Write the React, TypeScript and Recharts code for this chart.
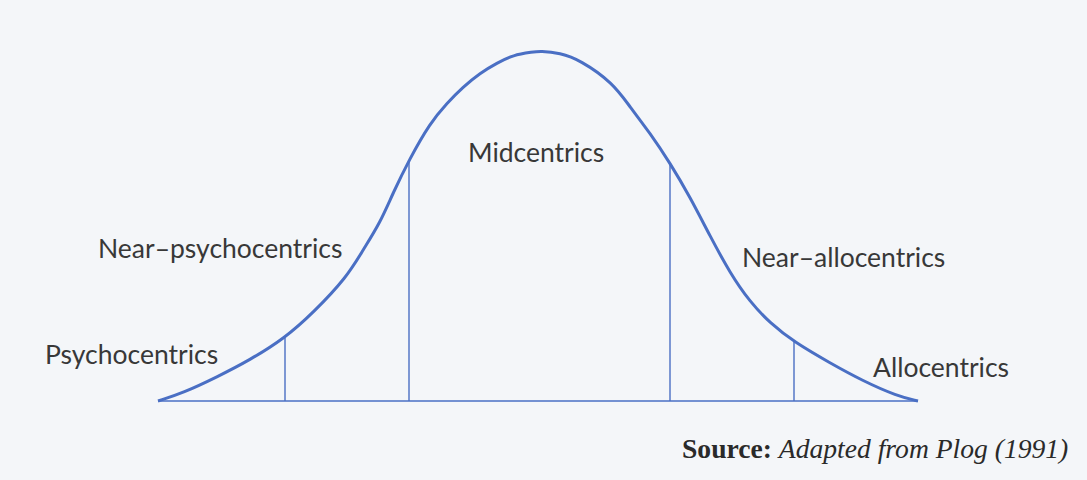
import { ComposedChart, Line, Scatter, XAxis, YAxis, ReferenceLine } from 'recharts'

// horizontal position along the scale and curve height above the baseline
const curveX = [158, 183, 217, 250, 285, 313, 347, 363, 380, 393, 409, 430, 447, 463, 480, 497, 513, 533, 540, 560, 580, 613, 630, 650, 670, 690, 710, 730, 750, 770, 794, 830, 863, 897, 918]
const curveH = [0, 8, 24, 41, 63, 88, 124, 151, 178, 208, 241, 278, 298, 314, 328, 338, 346, 349, 350, 348, 341, 318, 294, 268, 238, 204, 165, 128, 99, 78, 59, 38, 20, 5, 0]

// segment boundaries
const dividerX = [285, 409, 670, 794]
const dividerH = [63, 241, 238, 59]

const segmentNames = ['Psychocentrics', 'Near–psychocentrics', 'Midcentrics', 'Near–allocentrics', 'Allocentrics']
const labelX = [45, 98, 468, 742, 873]
const labelH = [37, 143, 239, 134, 24]

const BLUE = '#4a6fc4'
const INK = '#383838'

const curve = curveX.map((x, i) => ({ x, h: curveH[i] }))
const labels = segmentNames.map((name, i) => ({ x: labelX[i], h: labelH[i], name }))

function SegmentLabel(props: any) {
  const { cx, cy, payload } = props
  return (
    <text x={cx} y={cy} textAnchor="start" fill={INK} fontSize={26.5} fontFamily="Lato, 'Open Sans', sans-serif">
      {payload.name}
    </text>
  )
}

export default function App() {
  return (
    <div style={{ position: 'absolute', left: 0, top: 0, width: 1087, height: 480, background: '#f4f6f9' }}>
      <ComposedChart width={1087} height={480} margin={{ top: 0, right: 0, bottom: 0, left: 0 }}>
        <XAxis type="number" dataKey="x" domain={[0, 1087]} hide allowDataOverflow />
        <YAxis type="number" domain={[-79, 401]} hide allowDataOverflow />
        <ReferenceLine
          segment={[{ x: curveX[0], y: 0 }, { x: curveX[curveX.length - 1], y: 0 }]}
          stroke={BLUE}
          strokeWidth={1.6}
        />
        {dividerX.map((x, i) => (
          <ReferenceLine key={x} segment={[{ x, y: 0 }, { x, y: dividerH[i] }]} stroke={BLUE} strokeWidth={1.4} />
        ))}
        <Line
          data={curve}
          dataKey="h"
          type="basis"
          stroke={BLUE}
          strokeWidth={3}
          dot={false}
          activeDot={false}
          isAnimationActive={false}
        />
        <Scatter data={labels} dataKey="h" shape={SegmentLabel} isAnimationActive={false} />
      </ComposedChart>
      <div
        style={{
          position: 'absolute',
          left: 682,
          top: 435,
          fontFamily: "'Liberation Serif', serif",
          fontSize: 27.6,
          lineHeight: 1,
          color: '#2a2a2a',
          whiteSpace: 'nowrap',
        }}
      >
        <b>Source:</b> <i>Adapted from Plog (1991)</i>
      </div>
    </div>
  )
}
